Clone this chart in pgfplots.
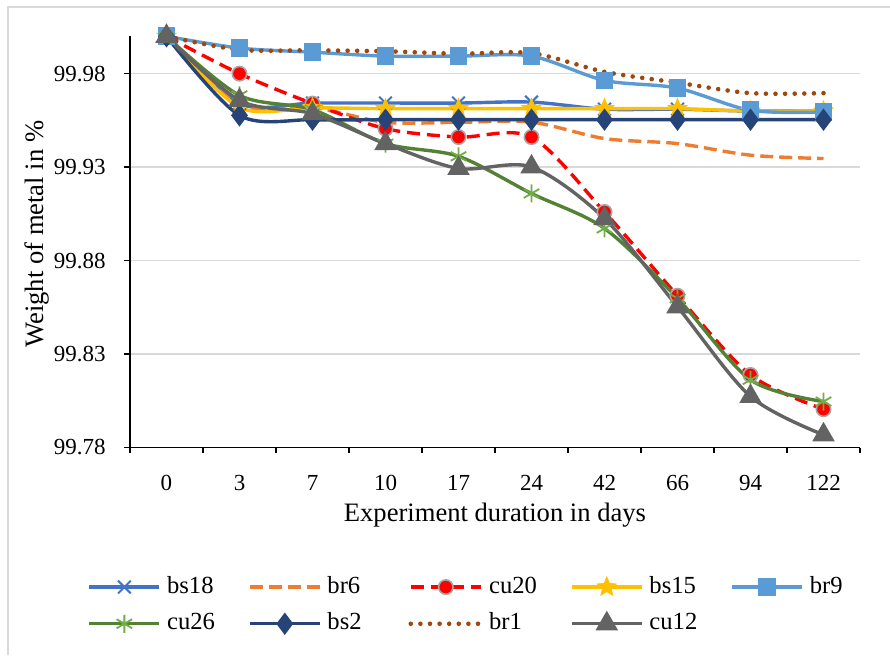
\documentclass[border=0pt]{standalone}
\usepackage{fontspec}
\setmainfont{Liberation Serif}
\usepackage{pgfplots}
\pgfplotsset{compat=1.18}
\usepackage{pgfplotstable}
\usetikzlibrary{plotmarks}

\definecolor{cbsA}{HTML}{4472C4}
\definecolor{cbrB}{HTML}{ED7D31}
\definecolor{ccuA}{HTML}{FF0000}
\definecolor{cbsB}{HTML}{FFC000}
\definecolor{cbrC}{HTML}{5B9BD5}
\definecolor{ccuB}{HTML}{548235}
\definecolor{ccuBm}{HTML}{70AD47}
\definecolor{cbsC}{HTML}{264478}
\definecolor{cbrD}{HTML}{9E480E}
\definecolor{ccuC}{HTML}{636363}
\definecolor{gridc}{HTML}{D9D9D9}

% filled five-pointed star
\pgfdeclareplotmark{fstar}{%
  \pgfpathmoveto{\pgfqpointpolar{90}{\pgfplotmarksize}}%
  \pgfpathlineto{\pgfqpointpolar{126}{0.45\pgfplotmarksize}}%
  \pgfpathlineto{\pgfqpointpolar{162}{\pgfplotmarksize}}%
  \pgfpathlineto{\pgfqpointpolar{198}{0.45\pgfplotmarksize}}%
  \pgfpathlineto{\pgfqpointpolar{234}{\pgfplotmarksize}}%
  \pgfpathlineto{\pgfqpointpolar{270}{0.45\pgfplotmarksize}}%
  \pgfpathlineto{\pgfqpointpolar{306}{\pgfplotmarksize}}%
  \pgfpathlineto{\pgfqpointpolar{342}{0.45\pgfplotmarksize}}%
  \pgfpathlineto{\pgfqpointpolar{18}{\pgfplotmarksize}}%
  \pgfpathlineto{\pgfqpointpolar{54}{0.45\pgfplotmarksize}}%
  \pgfpathclose
  \pgfusepathqfillstroke}

% x = category index (0,3,7,10,17,24,42,66,94,122 days)
\pgfplotstableread{
x bs18    br6     cu20    bs15    br9     cu26    bs2     br1     cu12
0 100.000 100.000 100.000 100.000 100.000 100.000 100.000 100.000 100.000
1 99.9640 99.9630 99.9800 99.9620 99.9937 99.9684 99.9577 99.9928 99.9657
2 99.9643 99.9620 99.9640 99.9618 99.9915 99.9608 99.9554 99.9925 99.9586
3 99.9643 99.9540 99.9506 99.9613 99.9894 99.9426 99.9554 99.9920 99.9426
4 99.9643 99.9540 99.9461 99.9613 99.9894 99.9358 99.9554 99.9907 99.9293
5 99.9648 99.9541 99.9461 99.9613 99.9894 99.9159 99.9554 99.9910 99.9301
6 99.9610 99.9453 99.9060 99.9613 99.9764 99.8972 99.9554 99.9810 99.9025
7 99.9610 99.9426 99.8612 99.9613 99.9723 99.8598 99.9554 99.9752 99.8553
8 99.9600 99.9364 99.8188 99.9600 99.9604 99.8162 99.9554 99.9696 99.8073
9 99.9600 99.9346 99.8005 99.9600 99.9595 99.8046 99.9554 99.9696 99.7868
}\weights

\begin{document}
\fontsize{11.5}{13.8}\selectfont
\begin{tikzpicture}
\useasboundingbox (-65pt,-103.75pt) rectangle (380pt,223.75pt);
\draw[gridc, line width=0.75pt] (-61pt,-103.75pt) -- (-61pt,220.25pt) -- (380pt,220.25pt);
\begin{axis}[
    at={(0,0)}, anchor=south west,
    scale only axis,
    width=365pt, height=205.6pt,
    xmin=-0.5, xmax=9.5,
    ymin=99.78, ymax=100,
    clip=false,
    axis x line*=bottom, axis y line*=left,
    axis line style={black, line width=0.8pt},
    tick align=outside,
    xtick={0,...,9},
    xticklabels={0,3,7,10,17,24,42,66,94,122},
    minor xtick={-0.5,0.5,...,9.5},
    major x tick style={draw=none},
    minor x tick style={black, line width=0.8pt},
    minor tick length=2.5pt,
    ytick={99.78,99.83,99.88,99.93,99.98},
    major tick length=3pt,
    y tick style={black, line width=0.8pt},
    ymajorgrids,
    grid style={gridc, line width=0.75pt},
    /pgf/number format/assume math mode=true,
    yticklabel style={/pgf/number format/.cd, fixed, fixed zerofill, precision=2, /tikz/.cd,
        anchor=east, inner xsep=0pt, xshift=-9pt},
    xticklabel style={anchor=base, yshift=-18.4pt},
    xlabel={Experiment duration in days},
    ylabel={Weight of metal in \%},
    xlabel style={at={(axis description cs:0.5,0)}, anchor=base, yshift=-37.1pt,
        font=\fontsize{13.3}{16}\selectfont},
    ylabel style={at={(axis description cs:-0.118,0.519)}, anchor=base,
        font=\fontsize{13.3}{16}\selectfont},
    every axis plot/.append style={line width=1.7pt, smooth},
    legend columns=5,
    legend style={draw=none, at={(axis description cs:0,0)}, anchor=north west,
        xshift=-21.35pt, yshift=-60.4pt, inner sep=0pt,
        font=\fontsize{12.3}{14.5}\selectfont,
        nodes={inner xsep=3pt, inner ysep=0pt, text height=8.5pt, text depth=2.5pt, minimum height=18.35pt}},
    legend image code/.code={
        \draw[mark repeat=2, mark phase=2] plot coordinates {(0pt,0pt) (17.5pt,0pt) (35pt,0pt)};},
]
\addplot[cbsA, mark=x, mark size=4.5pt, mark options={line width=1pt, solid}]
    table[x=x, y=bs18]{\weights};
\addlegendentry{\makebox[37.5pt][l]{bs18}}
\addplot[cbrB, dash pattern=on 6.5pt off 3pt, no marks]
    table[x=x, y=br6]{\weights};
\addlegendentry{\makebox[37.5pt][l]{br6}}
\addplot[ccuA, dash pattern=on 6.5pt off 3.5pt, mark=*, mark size=3.6pt,
    mark options={solid, fill=ccuA, draw=gray!70, line width=0.8pt}]
    table[x=x, y=cu20]{\weights};
\addlegendentry{\makebox[37.5pt][l]{cu20}}
\addplot[cbsB, mark=fstar, mark size=5pt, mark options={solid, fill=cbsB, line width=0.4pt}]
    table[x=x, y=bs15]{\weights};
\addlegendentry{\makebox[37.5pt][l]{bs15}}
\addplot[cbrC, mark=square*, mark size=3.6pt, mark options={solid, fill=cbrC}]
    table[x=x, y=br9]{\weights};
\addlegendentry{\makebox[37.5pt][l]{br9}}
\addplot[ccuB, mark=asterisk, mark size=4.5pt, mark options={solid, draw=ccuBm, line width=0.9pt}]
    table[x=x, y=cu26]{\weights};
\addlegendentry{\makebox[37.5pt][l]{cu26}}
\addplot[cbsC, mark=diamond*, mark size=4.2pt, mark options={solid, fill=cbsC}]
    table[x=x, y=bs2]{\weights};
\addlegendentry{\makebox[37.5pt][l]{bs2}}
\addplot[cbrD, line width=2.3pt, line cap=round, dash pattern=on 0pt off 4.8pt, no marks]
    table[x=x, y=br1]{\weights};
\addlegendentry{\makebox[37.5pt][l]{br1}}
\addplot[ccuC, mark=triangle*, mark size=4.8pt, mark options={solid, fill=ccuC}]
    table[x=x, y=cu12]{\weights};
\addlegendentry{\makebox[37.5pt][l]{cu12}}
\end{axis}
\end{tikzpicture}
\end{document}
